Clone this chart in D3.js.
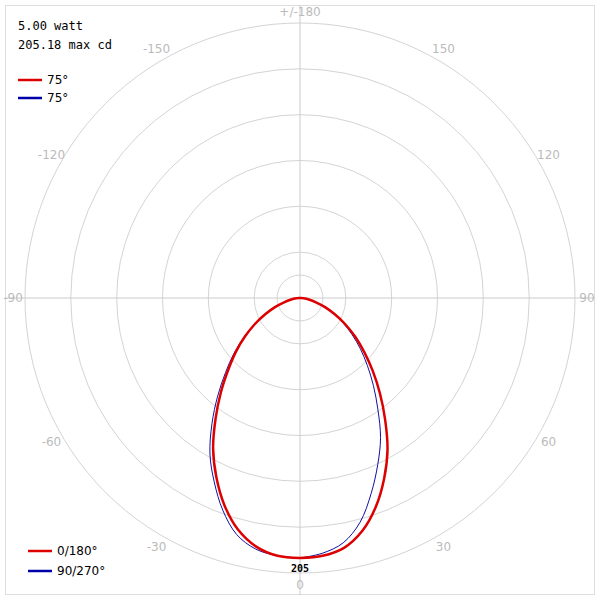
<!DOCTYPE html>
<html>
<head>
<meta charset="utf-8">
<script src="https://cdn.jsdelivr.net/npm/d3@7"></script>
<style>body{margin:0;background:#fff}</style>
</head>
<body>
<div id="chart"></div>
<script>
const width = 600;
const height = 600;
const cx = 300, cy = 298;

// angles from nadir, degrees
const angles = [0, 5, 10, 15, 20, 25, 30, 35, 40, 45, 50, 55, 60, 65, 70, 75, 80, 85, 90, 180];
// candela values
const red0 = [205, 204, 200, 190, 175, 157, 138, 117, 98, 81, 66, 53, 41, 30, 21, 13, 7, 3, 1, 0];
const red180 = [205, 204, 199, 189, 174, 156, 137, 116, 97, 80, 66, 53, 41, 30, 21, 13, 7, 3, 1, 0];
const blue90 = [205, 202, 196, 183, 164, 145, 127, 107, 90, 75, 62, 50, 39, 29, 20, 13, 7, 3, 1, 0];
const blue270 = [205, 204, 201, 193, 178, 160, 142, 121, 101, 83, 68, 54, 42, 31, 21, 13, 7, 3, 1, 0];
const ringValues = [18.07, 36.13, 72.27, 108.4, 144.5, 180.7, 216.8];
const angleLabels = [0, 30, 60, 90, 120, 150, -30, -60, -90, -120, -150];

const r = d3.scaleLinear().domain([0, 216.8]).range([0, 275]);

const svg = d3.select('#chart').append('svg')
    .attr('width', width).attr('height', height)
    .style('font-family', 'DejaVu Sans Mono');

// frame
svg.append('rect').attr('x', 5.5).attr('y', 5.5).attr('width', 589).attr('height', 589)
    .attr('fill', 'none').attr('stroke', '#ddd');

// rings
svg.selectAll('.ring').data(ringValues).enter().append('circle')
    .attr('cx', cx).attr('cy', cy).attr('r', d => r(d))
    .attr('fill', 'none').attr('stroke', '#d4d4d4');

// spokes
svg.append('line').attr('x1', 5).attr('x2', 595).attr('y1', cy).attr('y2', cy).attr('stroke', '#ccc');
svg.append('line').attr('x1', cx).attr('x2', cx).attr('y1', 5).attr('y2', 595).attr('stroke', '#ccc');

// angle labels
const lab = svg.append('g').attr('fill', '#bbb').attr('font-size', 12).attr('font-family', 'DejaVu Sans')
    .attr('text-anchor', 'middle');
lab.selectAll('text').data(angleLabels).enter().append('text')
    .attr('x', d => cx + 287 * Math.sin(d * Math.PI / 180))
    .attr('y', d => cy + 287 * Math.cos(d * Math.PI / 180) + 4)
    .text(d => d);
lab.append('text').attr('x', cx).attr('y', 16).text('+/-180');

// curves
const toPoints = (right, left) => {
    const pts = [];
    angles.forEach((a, i) => pts.push([a, right[i]]));
    for (let i = angles.length - 1; i >= 0; i--) pts.push([-angles[i], left[i]]);
    return pts;
};
const line = d3.line()
    .x(d => cx + r(d[1]) * Math.sin(d[0] * Math.PI / 180))
    .y(d => cy + r(d[1]) * Math.cos(d[0] * Math.PI / 180))
    .curve(d3.curveCatmullRomClosed);

svg.append('path').datum(toPoints(blue90, blue270))
    .attr('fill', 'none').attr('stroke', '#1010a0').attr('stroke-width', 1).attr('d', line);
svg.append('path').datum(toPoints(red0, red180))
    .attr('fill', 'none').attr('stroke', '#dd0000').attr('stroke-width', 2.5).attr('d', line);

// max label
svg.append('text').attr('x', cx).attr('y', cy + r(205) + 14).attr('text-anchor', 'middle')
    .attr('font-size', 10).attr('font-weight', 'bold').text('205');

// header
svg.append('text').attr('x', 18).attr('y', 30).attr('font-size', 12).text('5.00 watt');
svg.append('text').attr('x', 18).attr('y', 49).attr('font-size', 12).text('205.18 max cd');

const legend = (x, y, color, label) => {
    svg.append('line').attr('x1', x).attr('x2', x + 24).attr('y1', y).attr('y2', y)
        .attr('stroke', color).attr('stroke-width', 2.5);
    svg.append('text').attr('x', x + 29).attr('y', y + 4).attr('font-size', 12)
        .attr('font-family', 'DejaVu Sans').text(label);
};
legend(18, 80, '#dd0000', '75°');
legend(18, 98, '#0000aa', '75°');
legend(28, 551, '#dd0000', '0/180°');
legend(28, 571, '#0000aa', '90/270°');
</script>
</body>
</html>
